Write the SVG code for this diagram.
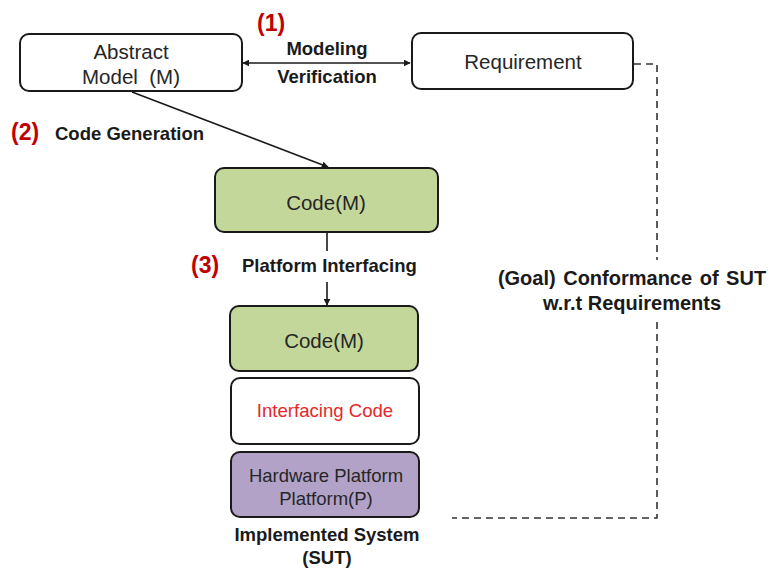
<svg xmlns="http://www.w3.org/2000/svg" width="775" height="572" viewBox="0 0 775 572">
  <style>
    .box { stroke: #1a1a1a; stroke-width: 2; }
    .plain { fill: #ffffff; }
    .green { fill: #c4d79b; }
    .purple { fill: #b3a2c7; }
    .lbl { font-family: "Liberation Sans", Arial, sans-serif; font-size: 20.5px; fill: #262626; text-anchor: middle; }
    .bold { font-family: "Liberation Sans", Arial, sans-serif; font-size: 18.5px; font-weight: bold; fill: #1a1a1a; }
    .step { font-family: "Liberation Sans", Arial, sans-serif; font-size: 23px; font-weight: bold; fill: #c00000; }
    .wire { stroke: #1a1a1a; stroke-width: 1.6; fill: none; }
    .dash { stroke: #333333; stroke-width: 1.6; fill: none; stroke-dasharray: 7 5; }
  </style>
  <defs>
    <marker id="tip" viewBox="0 0 10 10" refX="9" refY="5" markerWidth="7" markerHeight="7" orient="auto-start-reverse" markerUnits="userSpaceOnUse">
      <path d="M0,0 L10,5 L0,10 z" fill="#1a1a1a"/>
    </marker>
  </defs>
  <rect width="775" height="572" fill="#ffffff"/>

  <g id="connectors">
    <line class="wire" x1="243" y1="63" x2="410" y2="63" marker-start="url(#tip)" marker-end="url(#tip)"/>
    <line class="wire" x1="132" y1="92" x2="328" y2="167" marker-end="url(#tip)"/>
    <line class="wire" x1="327" y1="233" x2="327" y2="251"/>
    <line class="wire" x1="327" y1="282" x2="327" y2="305" marker-end="url(#tip)"/>
    <path class="dash" d="M634,64 H657 V260"/>
    <path class="dash" d="M657,322 V518 H452"/>
  </g>

  <g id="abstract-model">
    <rect class="box plain" x="20" y="34" width="222" height="57" rx="9"/>
    <text class="lbl" x="131" y="59">Abstract</text>
    <text class="lbl" x="131" y="84">Model&#160;&#160;(M)</text>
  </g>

  <g id="requirement">
    <rect class="box plain" x="412" y="33" width="221" height="56" rx="9"/>
    <text class="lbl" x="523" y="69">Requirement</text>
  </g>

  <g id="code-m">
    <rect class="box green" x="215" y="168" width="223" height="64" rx="9"/>
    <text class="lbl" x="326" y="210">Code(M)</text>
  </g>

  <g id="sut-code-m">
    <rect class="box green" x="230" y="306" width="188" height="65" rx="9"/>
    <text class="lbl" x="324" y="348">Code(M)</text>
  </g>

  <g id="interfacing-code">
    <rect class="box plain" x="231" y="378" width="188" height="66" rx="9"/>
    <text class="lbl" x="325" y="417" style="fill:#e8272a;font-size:18.6px">Interfacing Code</text>
  </g>

  <g id="hardware-platform">
    <rect class="box purple" x="231" y="452" width="188" height="65" rx="9"/>
    <text class="lbl" x="326" y="482" style="font-size:18.5px">Hardware Platform</text>
    <text class="lbl" x="326" y="505" style="font-size:18.5px">Platform(P)</text>
  </g>

  <g id="labels">
    <text class="step" x="257" y="31">(1)</text>
    <text class="bold" x="327" y="55" text-anchor="middle">Modeling</text>
    <text class="bold" x="327" y="83" text-anchor="middle">Verification</text>
    <text class="step" x="11" y="140">(2)</text>
    <text class="bold" x="55" y="140">Code Generation</text>
    <text class="step" x="191" y="273">(3)</text>
    <text class="bold" x="242" y="272">Platform Interfacing</text>
    <text class="bold" x="327" y="541" text-anchor="middle">Implemented System</text>
    <text class="bold" x="327" y="564" text-anchor="middle">(SUT)</text>
    <text class="bold" x="632" y="285" text-anchor="middle" style="font-size:20px;word-spacing:2px">(Goal) Conformance of SUT</text>
    <text class="bold" x="632" y="310" text-anchor="middle" style="font-size:20px">w.r.t Requirements</text>
  </g>
</svg>
